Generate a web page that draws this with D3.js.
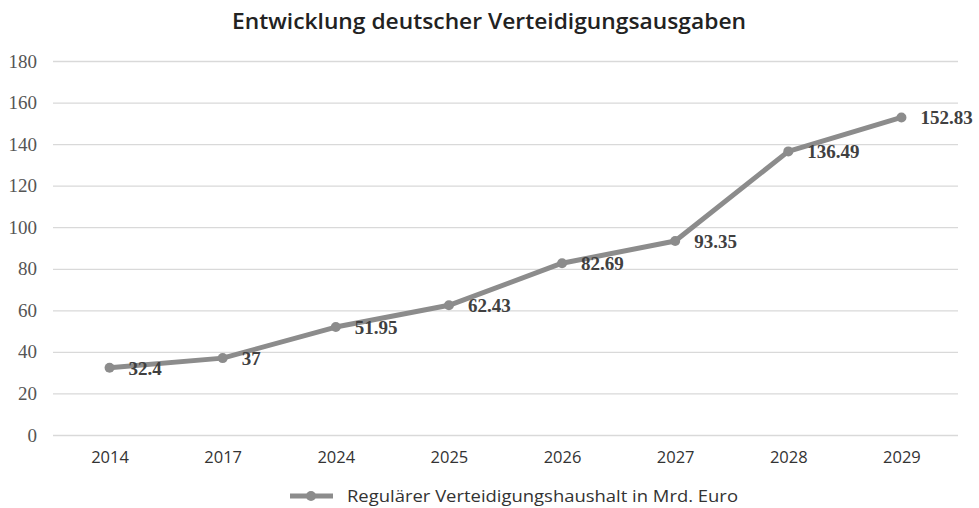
<!DOCTYPE html>
<html><head><meta charset="utf-8">
<script src="https://cdn.jsdelivr.net/npm/d3@7"></script>
<style>body{margin:0;background:#fff}</style>
</head><body>
<svg id="c" width="979" height="508"></svg>
<script>
const years = ["2014","2017","2024","2025","2026","2027","2028","2029"];
const values = [32.4, 37, 51.95, 62.43, 82.69, 93.35, 136.49, 152.83];
const labels = ["32.4","37","51.95","62.43","82.69","93.35","136.49","152.83"];
const yTicks = [0,20,40,60,80,100,120,140,160,180];
const title = "Entwicklung deutscher Verteidigungsausgaben";
const seriesName = "Regulärer Verteidigungshaushalt in Mrd. Euro";

(function(){
const svg = d3.select("#c");
const mL = 53, mR = 958, mT = 61, mB = 435;
const x = d3.scalePoint().domain(years).range([mL, mR]).padding(0.5);
const y = d3.scaleLinear().domain([0,180]).range([mB, mT]);
const lineColor = "#8c8c8c";

svg.append("text").attr("x", 489).attr("y", 29).attr("text-anchor","middle")
  .attr("font-family","'Open Sans', sans-serif").attr("font-weight",600).attr("font-size",21)
  .attr("textLength",514).attr("lengthAdjust","spacingAndGlyphs")
  .attr("fill","#222").text(title);

const yAxis = svg.append("g").attr("transform",`translate(${mL},0)`)
  .call(d3.axisLeft(y).tickValues(yTicks).tickSize(-(mR-mL)).tickPadding(16));
yAxis.select(".domain").remove();
yAxis.selectAll(".tick line").attr("stroke","#d9d9d9").attr("stroke-width",1.3);
yAxis.selectAll(".tick text").attr("font-family","'Liberation Serif', serif").attr("font-size",19).attr("fill","#555");

const xAxis = svg.append("g").attr("transform",`translate(0,${mB})`)
  .call(d3.axisBottom(x).tickSize(0).tickPadding(16));
xAxis.select(".domain").remove();
xAxis.selectAll(".tick text").attr("font-family","'Open Sans', sans-serif").attr("font-size",16.5).attr("fill","#333");

const data = years.map((yr,i)=>({yr, v: values[i], l: labels[i]}));
svg.append("path").datum(data)
  .attr("d", d3.line().x(d=>x(d.yr)).y(d=>y(d.v)))
  .attr("fill","none").attr("stroke",lineColor).attr("stroke-width",5).attr("stroke-linejoin","round");
svg.selectAll("circle.pt").data(data).join("circle").attr("class","pt")
  .attr("cx",d=>x(d.yr)).attr("cy",d=>y(d.v)).attr("r",5).attr("fill",lineColor);
svg.selectAll("text.lbl").data(data).join("text").attr("class","lbl")
  .attr("x",d=>x(d.yr)+19).attr("y",d=>y(d.v)+7)
  .attr("font-family","'Liberation Serif', serif").attr("font-weight","bold").attr("font-size",19)
  .attr("fill","#404040").text(d=>d.l);

const lg = svg.append("g");
lg.append("line").attr("x1",290).attr("x2",333).attr("y1",496).attr("y2",496)
  .attr("stroke",lineColor).attr("stroke-width",5);
lg.append("circle").attr("cx",311).attr("cy",496).attr("r",5).attr("fill",lineColor);
lg.append("text").attr("x",347).attr("y",502).attr("font-family","'Open Sans', sans-serif")
  .attr("font-size",17).attr("textLength",391).attr("lengthAdjust","spacingAndGlyphs")
  .attr("fill","#333").text(seriesName);
})();
</script>
</body></html>
